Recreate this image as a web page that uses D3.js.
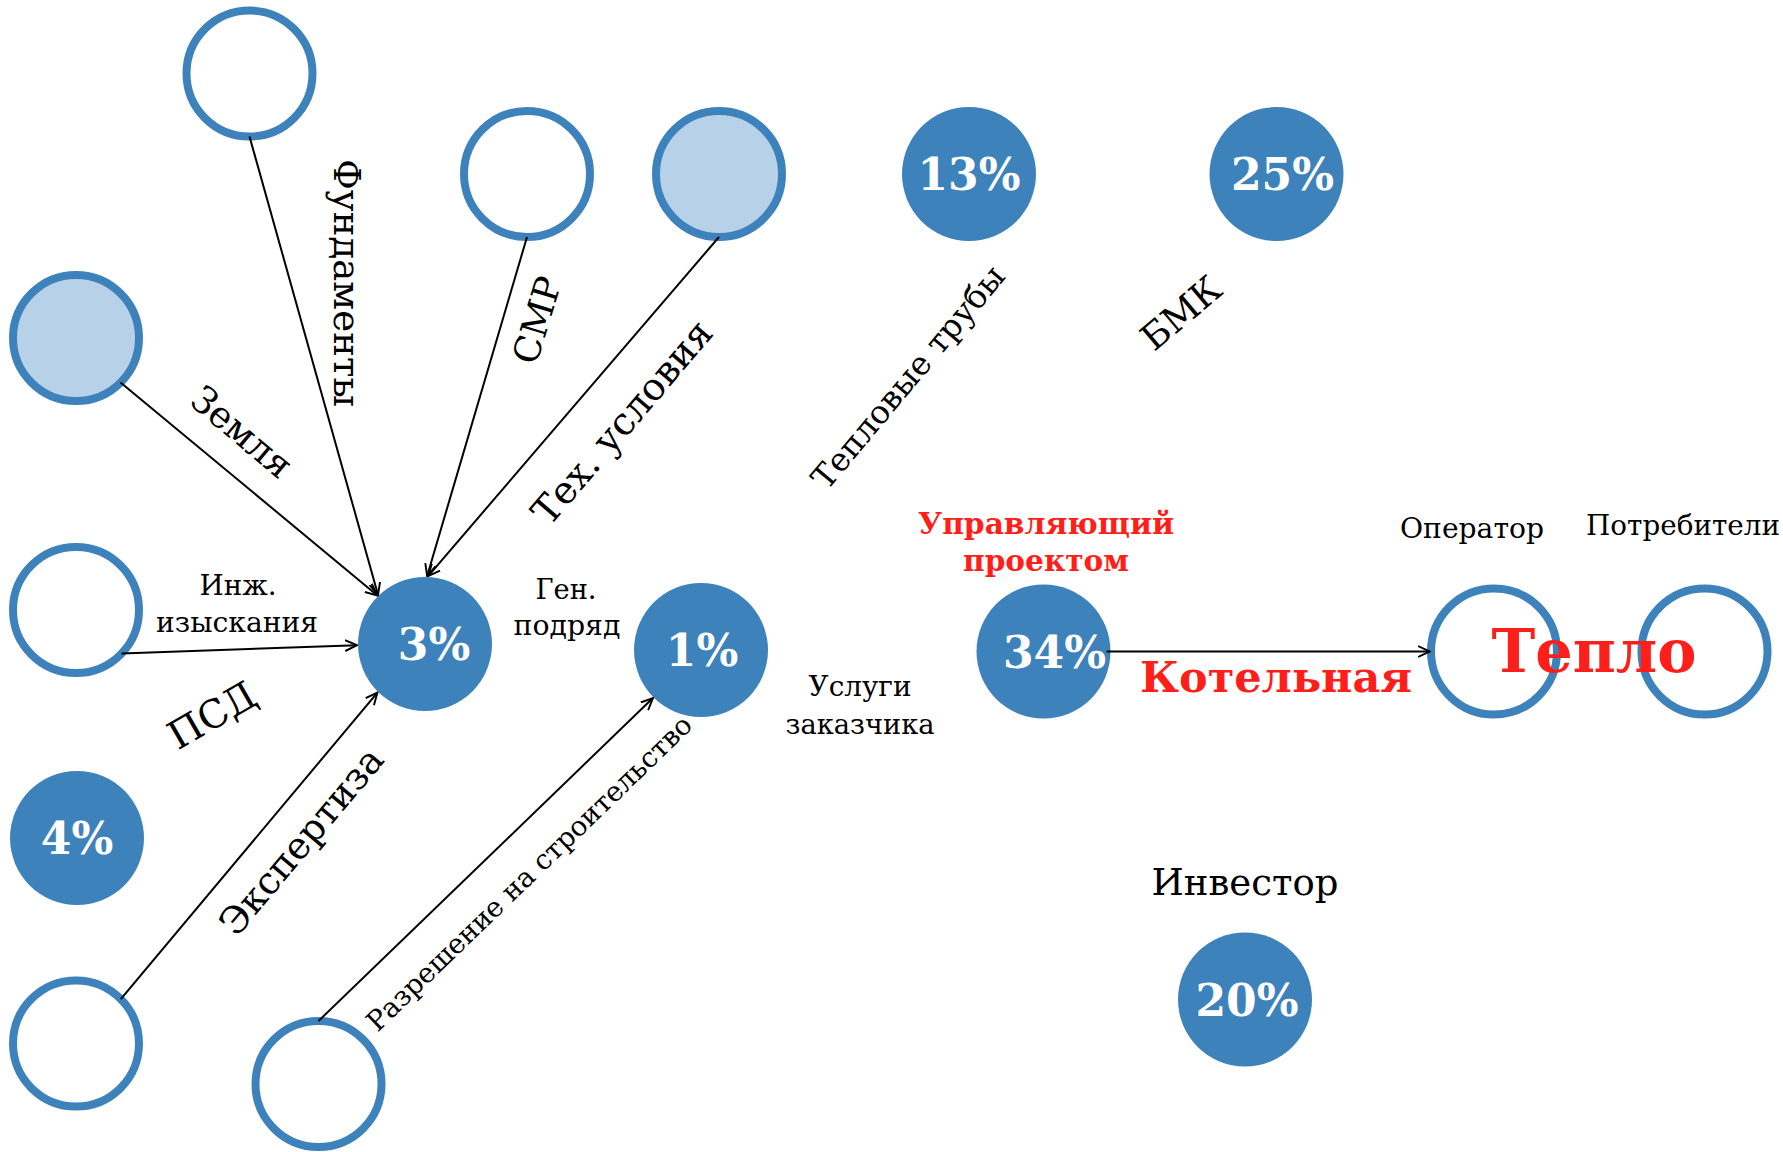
<!DOCTYPE html>
<html>
<head>
<meta charset="utf-8">
<script src="https://cdn.jsdelivr.net/npm/d3@7"></script>
<style>
  html, body { margin: 0; padding: 0; background: #fff; }
  svg { display: block; }
</style>
</head>
<body>
<div id="chart"></div>
<script>
'use strict';

// nodes of the scheme (share in %, null = empty ring)
var nodeIds    = ['fund', 'smr', 'tech', 'land', 'survey', 'gen', 'customer', 'manager', 'operator', 'consumers', 'design', 'expert', 'permit', 'pipes', 'bmk', 'investor'];
var nodeShares = [null, null, null, null, null, 3, 1, 34, null, null, 4, null, null, 13, 25, 20];

// arrows between nodes
var linkFrom = ['land', 'fund', 'smr', 'tech', 'survey', 'expert', 'permit', 'manager'];
var linkTo   = ['gen', 'gen', 'gen', 'gen', 'gen', 'gen', 'customer', 'operator'];

// captions
var captionTexts = ['Фундаменты', 'Земля', 'СМР', 'Тех. условия', 'Тепловые трубы', 'БМК', 'ПСД', 'Экспертиза',
  'Разрешение на строительство', 'Инж.', 'изыскания', 'Ген.', 'подряд', 'Услуги', 'заказчика',
  'Управляющий', 'проектом', 'Оператор', 'Потребители', 'Котельная', 'Тепло', 'Инвестор'];

// ---- layout (reference pixel space) ----
var nodePos = {
  fund: [249.5, 73.5], smr: [527, 174], tech: [719, 174], land: [76, 338], survey: [76, 610],
  gen: [425, 644], customer: [701, 650], manager: [1043.5, 651.5], operator: [1494, 651.5],
  consumers: [1704.5, 651.5], design: [77, 838], expert: [76, 1043.5], permit: [318.5, 1084],
  pipes: [969, 174], bmk: [1276.5, 174], investor: [1245, 999.5]
};
// horizontal shift of the share label inside its disk
var shareShift = { gen: 9, customer: 1, manager: 11, design: 0, pipes: 0, bmk: 6, investor: 2 };
var lightNodes = ['tech', 'land'];
// start / end angle (deg) on the source / target circle
var linkAngles = [[45, -134.4], [90, -133.7], [90, -88.2], [90, -87.3], [43.7, 179], [-44.7, 134.4], [-90, 135], [0, 180]];
// x, y, rotate, fitted width, bold, colour, anchor-is-centre
var captionLayout = [
  [347, 283, 90, 248, false, '#000', true],
  [242, 432, 40, 120, false, '#000', true],
  [537, 320, -73, 89, false, '#000', true],
  [622, 422, -49.5, 255, false, '#000', true],
  [908, 377, -50, 280, false, '#000', true],
  [1181, 313, -40, 92, false, '#000', true],
  [212, 715, -30, 95, false, '#000', true],
  [301, 841, -50, 232, false, '#000', true],
  [529, 873, -44, 440, false, '#000', true],
  [238, 595, 0, 77, false, '#000', false],
  [237, 632, 0, 162, false, '#000', false],
  [566, 599, 0, 61, false, '#000', false],
  [567, 635, 0, 107, false, '#000', false],
  [860, 696, 0, 103, false, '#000', false],
  [860, 734, 0, 149, false, '#000', false],
  [1046, 534, 0, 256, true, '#ff1f1a', false],
  [1046, 571, 0, 166, true, '#ff1f1a', false],
  [1472, 538, 0, 144, false, '#000', false],
  [1683, 535, 0, 194, false, '#000', false],
  [1276, 692, 0, 272, true, '#ff1f1a', false],
  [1594, 672, 0, 205, true, '#ff1f1a', false],
  [1245, 895, 0, 187, false, '#000', false]
];

var W = 1783, H = 1152;
var blue = '#3e82bb', light = '#b7d1e8';
var ringR = 63, diskR = 67;

var x = d3.scaleLinear().domain([0, 1783]).range([0, W]);
var y = d3.scaleLinear().domain([0, 1152]).range([0, H]);

var svg = d3.select('#chart').append('svg')
  .attr('width', W).attr('height', H)
  .style('background', '#fff')
  .style('font-family', '"DejaVu Serif", "Liberation Serif", serif');

svg.append('defs').append('marker')
  .attr('id', 'arrow')
  .attr('viewBox', '0 -6 12 12')
  .attr('refX', 11).attr('refY', 0)
  .attr('markerUnits', 'userSpaceOnUse')
  .attr('markerWidth', 13).attr('markerHeight', 13)
  .attr('orient', 'auto')
  .append('path')
  .attr('d', 'M0,-5L11,0L0,5')
  .attr('fill', 'none').attr('stroke', '#000').attr('stroke-width', 1.8);

var nodes = nodeIds.map(function (id, i) {
  return { id: id, share: nodeShares[i], x: x(nodePos[id][0]), y: y(nodePos[id][1]) };
});
var byId = {};
nodes.forEach(function (n) { byId[n.id] = n; });

function radius(n) { return n.share == null ? ringR : diskR; }
function onCircle(n, deg, r) {
  var a = deg * Math.PI / 180;
  return [n.x + r * Math.cos(a), n.y + r * Math.sin(a)];
}

// circles
svg.append('g').selectAll('circle').data(nodes).enter().append('circle')
  .attr('cx', function (d) { return d.x; })
  .attr('cy', function (d) { return d.y; })
  .attr('r', radius)
  .attr('fill', function (d) {
    if (d.share != null) return blue;
    return lightNodes.indexOf(d.id) >= 0 ? light : '#fff';
  })
  .attr('stroke', function (d) { return d.share == null ? blue : 'none'; })
  .attr('stroke-width', 8);

// arrows
var links = linkFrom.map(function (f, i) {
  var s = byId[f], t = byId[linkTo[i]];
  return { a: onCircle(s, linkAngles[i][0], ringR), b: onCircle(t, linkAngles[i][1], radius(t) + 1) };
});
svg.append('g').selectAll('line').data(links).enter().append('line')
  .attr('x1', function (d) { return d.a[0]; })
  .attr('y1', function (d) { return d.a[1]; })
  .attr('x2', function (d) { return d.b[0]; })
  .attr('y2', function (d) { return d.b[1]; })
  .attr('stroke', '#000').attr('stroke-width', 2)
  .attr('marker-end', 'url(#arrow)');

// shares
svg.append('g').selectAll('text').data(nodes.filter(function (d) { return d.share != null; }))
  .enter().append('text')
  .attr('x', function (d) { return d.x + shareShift[d.id]; })
  .attr('y', function (d) { return d.y + 16; })
  .attr('text-anchor', 'middle')
  .attr('fill', '#fff')
  .attr('font-weight', 'bold')
  .attr('font-size', 44)
  .text(function (d) { return d.share + '%'; });

// captions, each fitted to its width in the reference
var capG = svg.append('g');
captionTexts.forEach(function (t, i) {
  var L = captionLayout[i];
  var el = capG.append('text')
    .attr('text-anchor', 'middle')
    .attr('fill', L[5])
    .attr('font-weight', L[4] ? 'bold' : 'normal')
    .attr('font-size', 30)
    .attr('transform', 'translate(' + x(L[0]) + ',' + y(L[1]) + ') rotate(' + L[2] + ')')
    .text(t);
  var len = el.node().getComputedTextLength();
  var fs = 30 * L[3] / len;
  el.attr('font-size', fs);
  if (L[6]) el.attr('dy', '0.35em');
});
</script>
</body>
</html>
